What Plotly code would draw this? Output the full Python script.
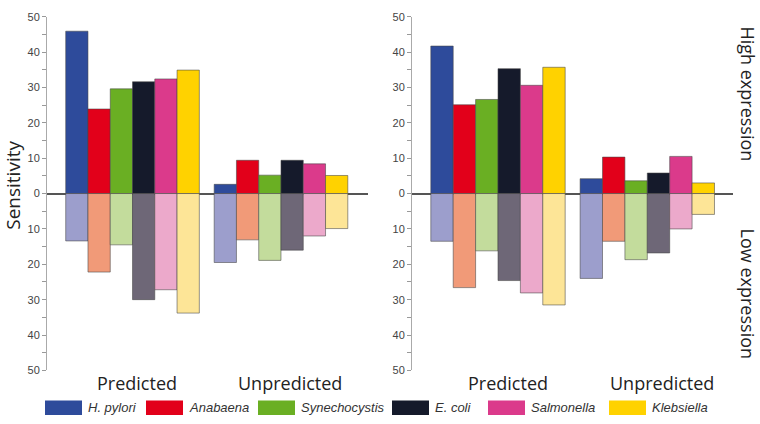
import plotly.graph_objects as go

W, H = 760, 424

groups = ["Predicted", "Unpredicted"]
species = ["H. pylori", "Anabaena", "Synechocystis", "E. coli", "Salmonella", "Klebsiella"]

# Left panel: high expression (positive) and low expression (shown downward)
left_high = {
    "H. pylori": [45.9, 2.6], "Anabaena": [23.9, 9.4], "Synechocystis": [29.6, 5.2],
    "E. coli": [31.6, 9.4], "Salmonella": [32.4, 8.4], "Klebsiella": [34.9, 5.1],
}
left_low = {
    "H. pylori": [13.4, 19.5], "Anabaena": [22.2, 13.1], "Synechocystis": [14.5, 18.9],
    "E. coli": [30.0, 16.0], "Salmonella": [27.2, 12.0], "Klebsiella": [33.8, 9.9],
}
# Right panel
right_high = {
    "H. pylori": [41.7, 4.2], "Anabaena": [25.1, 10.3], "Synechocystis": [26.6, 3.6],
    "E. coli": [35.3, 5.8], "Salmonella": [30.6, 10.5], "Klebsiella": [35.7, 3.0],
}
right_low = {
    "H. pylori": [13.5, 24.0], "Anabaena": [26.6, 13.5], "Synechocystis": [16.2, 18.7],
    "E. coli": [24.6, 16.8], "Salmonella": [28.1, 10.0], "Klebsiella": [31.5, 5.9],
}

tick_vals = list(range(-50, 55, 5))
tick_text = [str(abs(v)) if v % 10 == 0 else "" for v in tick_vals]

dark = ["#2E4B9B", "#E2001A", "#6AAF23", "#151A2B", "#DB3A8B", "#FFD200"]
light = ["#9C9ECC", "#F19A78", "#C3DC9C", "#6E6777", "#ECA9CB", "#FDE597"]
edge = dict(color="rgba(70,70,70,0.7)", width=0.8)

fig = go.Figure()
panels = [("x", "y", left_high, left_low), ("x2", "y2", right_high, right_low)]
for xa, ya, hi, lo in panels:
    for i, sp in enumerate(species):
        fig.add_trace(go.Bar(x=groups, y=hi[sp], xaxis=xa, yaxis=ya, offsetgroup=sp,
                             marker=dict(color=dark[i], line=edge), showlegend=False))
        fig.add_trace(go.Bar(x=groups, y=[-v for v in lo[sp]], xaxis=xa, yaxis=ya, offsetgroup=sp,
                             marker=dict(color=light[i], line=edge), showlegend=False))

ydom = [(H - 375) / H, (H - 11) / H]
yax = dict(range=[-50, 50], domain=ydom, tickvals=tick_vals, ticktext=tick_text,
           ticks="outside", ticklen=4, tickcolor="#999", tickwidth=1,
           showline=True, linecolor="#aaa", linewidth=1, showgrid=False,
           zeroline=True, zerolinecolor="#555", zerolinewidth=1.5,
           tickfont=dict(family="Liberation Sans, Arial", size=11, color="#444"))
xax = dict(showgrid=False, zeroline=False, showline=False, ticks="", showticklabels=False)

fig.update_layout(
    width=W, height=H, margin=dict(l=0, r=0, t=0, b=0),
    paper_bgcolor="white", plot_bgcolor="white",
    barmode="group", bargap=0.1, bargroupgap=0,
    xaxis=dict(xax, domain=[47 / W, 368 / W], range=[-0.576, 1.586], anchor="y"),
    yaxis=dict(yax, anchor="x"),
    xaxis2=dict(xax, domain=[412 / W, 733 / W], range=[-0.576, 1.574], anchor="y2"),
    yaxis2=dict(yax, anchor="x2"),
)

# group labels under each panel
label_font = dict(family="Open Sans", size=18, color="#222")
label_shift = {("x", "Predicted"): 4, ("x", "Unpredicted"): 9,
               ("x2", "Predicted"): 10, ("x2", "Unpredicted"): 15}
for xa in ["x", "x2"]:
    for g in groups:
        fig.add_annotation(xref=xa, yref="paper", x=g, y=1 - 388 / H, text=g,
                           xshift=label_shift[(xa, g)], showarrow=False,
                           xanchor="center", yanchor="middle", font=label_font)

ann = [
    dict(text="Sensitivity", x=13 / W, y=1 - 185 / H, textangle=-90,
         font=dict(family="Open Sans", size=19, color="#222")),
    dict(text="High expression", x=748 / W, y=1 - 90 / H, textangle=90,
         font=dict(family="Open Sans", size=18, color="#222")),
    dict(text="Low expression", x=748 / W, y=1 - 296 / H, textangle=90,
         font=dict(family="Open Sans", size=18, color="#222")),
]
for a in ann:
    fig.add_annotation(xref="paper", yref="paper", showarrow=False, xanchor="center", yanchor="middle", **a)

# custom legend (wide swatches)
legend_x = [45, 146, 258, 392, 488, 609]
for i, sp in enumerate(species):
    x0 = legend_x[i]
    fig.add_shape(type="rect", xref="paper", yref="paper",
                  x0=x0 / W, x1=(x0 + 37) / W, y0=1 - 421 / H, y1=1 - 406 / H,
                  fillcolor=dark[i], line=dict(width=0))
    fig.add_annotation(xref="paper", yref="paper", x=(x0 + 41) / W, y=1 - 413.5 / H,
                       text=sp, showarrow=False, xanchor="left", yanchor="middle",
                       font=dict(family="Liberation Sans, Arial", size=13, color="#333", style="italic"))

fig.write_html("out.html", config={"displayModeBar": False},
               post_script="document.body.style.margin='0';document.body.style.overflow='hidden';")
